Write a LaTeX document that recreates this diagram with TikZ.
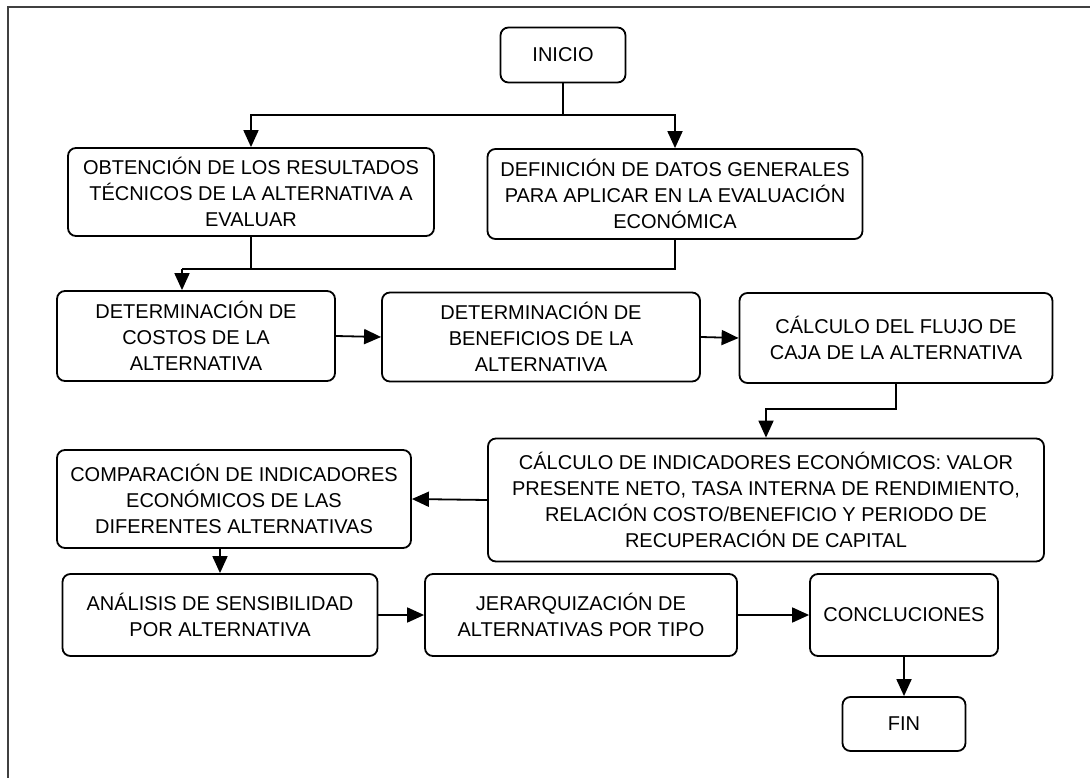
\documentclass[tikz,border=0pt]{standalone}
\usepackage{fontspec}
\setmainfont{Liberation Sans}
\usetikzlibrary{arrows.meta}
\tikzset{
  box/.style={draw=black, line width=1.8pt, rounded corners=8pt, fill=white,
    align=center, inner sep=2pt, font=\fontsize{20}{26}\selectfont},
  arr/.style={line width=1.8pt, -{Triangle[length=17pt,width=15pt]}},
  ln/.style={line width=1.8pt},
  frame/.style={line width=2.2pt, draw=black!75}
}
\begin{document}
\begin{tikzpicture}[x=1pt,y=-1pt]
\useasboundingbox (0,0) rectangle (1090,778);
\draw[frame] (8,778) -- (8,7) -- (1090,7);

\node[box, minimum width=125pt, minimum height=55pt] (ini) at (563,55) {INICIO};
\node[box, minimum width=366pt, minimum height=88pt] (obt) at (251,192)
  {OBTENCIÓN DE LOS RESULTADOS\\TÉCNICOS DE LA ALTERNATIVA A\\EVALUAR};
\node[box, minimum width=375pt, minimum height=90pt] (def) at (675,194)
  {DEFINICIÓN DE DATOS GENERALES\\PARA APLICAR EN LA EVALUACIÓN\\ECONÓMICA};
\node[box, minimum width=278pt, minimum height=90pt] (cos) at (196,336)
  {DETERMINACIÓN DE\\COSTOS DE LA\\ALTERNATIVA};
\node[box, minimum width=318pt, minimum height=89pt] (ben) at (541,337)
  {DETERMINACIÓN DE\\BENEFICIOS DE LA\\ALTERNATIVA};
\node[box, minimum width=313pt, minimum height=90pt] (flu) at (896,338)
  {CÁLCULO DEL FLUJO DE\\CAJA DE LA ALTERNATIVA};
\node[box, minimum width=556pt, minimum height=123pt] (ind) at (766,500)
  {CÁLCULO DE INDICADORES ECONÓMICOS: VALOR\\PRESENTE NETO, TASA INTERNA DE RENDIMIENTO,\\RELACIÓN COSTO/BENEFICIO Y PERIODO DE\\RECUPERACIÓN DE CAPITAL};
\node[box, minimum width=354pt, minimum height=98pt] (com) at (234,499)
  {COMPARACIÓN DE INDICADORES\\ECONÓMICOS DE LAS\\DIFERENTES ALTERNATIVAS};
\node[box, minimum width=315pt, minimum height=82pt] (ana) at (220,615)
  {ANÁLISIS DE SENSIBILIDAD\\POR ALTERNATIVA};
\node[box, minimum width=312pt, minimum height=82pt] (jer) at (581,615)
  {JERARQUIZACIÓN DE\\ALTERNATIVAS POR TIPO};
\node[box, minimum width=188pt, minimum height=82pt] (con) at (904,615)
  {CONCLUCIONES};
\node[box, minimum width=123pt, minimum height=54pt] (fin) at (904,724) {FIN};

\coordinate (j1) at (563,115);
\draw[ln] (ini.south) -- (j1);
\draw[arr] (j1) -| (obt.north);
\draw[arr] (j1) -| (def.north);

\coordinate (j2) at (182,269);
\draw[ln] (obt.south) |- (j2);
\draw[ln] (def.south) |- (j2);
\draw[arr] (j2) -- (j2 |- cos.north);

\draw[arr] (cos.east) -- (ben.west);
\draw[arr] (ben.east) -- (flu.west);

\coordinate (j3) at (766,409);
\draw[arr] (flu.south) |- (j3) -- (ind.north);

\draw[arr] (ind.west) -- (com.east);
\draw[arr] (ana.north |- com.south) -- (ana.north);
\draw[arr] (ana.east) -- (jer.west);
\draw[arr] (jer.east) -- (con.west);
\draw[arr] (con.south) -- (fin.north);
\end{tikzpicture}
\end{document}
